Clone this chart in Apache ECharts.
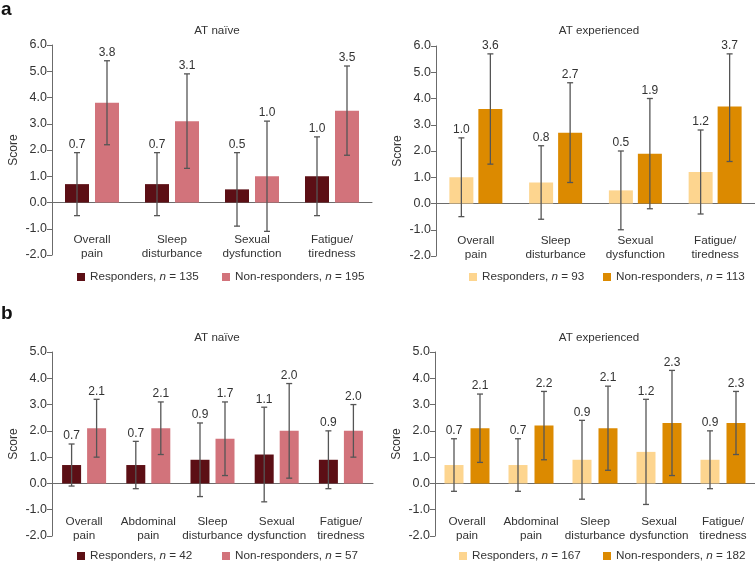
<!DOCTYPE html>
<html>
<head>
<meta charset="utf-8">
<script src="https://cdn.jsdelivr.net/npm/echarts@6/dist/echarts.min.js"></script>
<style>html,body{margin:0;padding:0;background:#fff}#c{width:755px;height:562px}</style>
</head>
<body>
<div id="c"></div>
<script>
// ---- data ----
var catsA = ['Overall\npain', 'Sleep\ndisturbance', 'Sexual\ndysfunction', 'Fatigue/\ntiredness'];
var catsB = ['Overall\npain', 'Abdominal\npain', 'Sleep\ndisturbance', 'Sexual\ndysfunction', 'Fatigue/\ntiredness'];
var yTicksA = [-2, -1, 0, 1, 2, 3, 4, 5, 6];
var yTicksB = [-2, -1, 0, 1, 2, 3, 4, 5];

var aNaiveResp = [0.7, 0.7, 0.5, 1.0];
var aNaiveRespLo = [-0.5, -0.5, -0.9, -0.5];
var aNaiveRespHi = [1.9, 1.9, 1.9, 2.5];
var aNaiveNon = [3.8, 3.1, 1.0, 3.5];
var aNaiveNonLo = [2.2, 1.3, -1.1, 1.8];
var aNaiveNonHi = [5.4, 4.9, 3.1, 5.2];

var aExpResp = [1.0, 0.8, 0.5, 1.2];
var aExpRespLo = [-0.5, -0.6, -1.0, -0.4];
var aExpRespHi = [2.5, 2.2, 2.0, 2.8];
var aExpNon = [3.6, 2.7, 1.9, 3.7];
var aExpNonLo = [1.5, 0.8, -0.2, 1.6];
var aExpNonHi = [5.7, 4.6, 4.0, 5.7];

var bNaiveResp = [0.7, 0.7, 0.9, 1.1, 0.9];
var bNaiveRespLo = [-0.1, -0.2, -0.5, -0.7, -0.2];
var bNaiveRespHi = [1.5, 1.6, 2.3, 2.9, 2.0];
var bNaiveNon = [2.1, 2.1, 1.7, 2.0, 2.0];
var bNaiveNonLo = [1.0, 1.1, 0.3, 0.2, 1.0];
var bNaiveNonHi = [3.2, 3.1, 3.1, 3.8, 3.0];

var bExpResp = [0.7, 0.7, 0.9, 1.2, 0.9];
var bExpRespLo = [-0.3, -0.3, -0.6, -0.8, -0.2];
var bExpRespHi = [1.7, 1.7, 2.4, 3.2, 2.0];
var bExpNon = [2.1, 2.2, 2.1, 2.3, 2.3];
var bExpNonLo = [0.8, 0.9, 0.5, 0.3, 1.1];
var bExpNonHi = [3.4, 3.5, 3.7, 4.3, 3.5];

var titles = ['AT naïve', 'AT experienced', 'AT naïve', 'AT experienced'];
var legendNames = [
  ['Responders, n = 135', 'Non-responders, n = 195'],
  ['Responders, n = 93', 'Non-responders, n = 113'],
  ['Responders, n = 42', 'Non-responders, n = 57'],
  ['Responders, n = 167', 'Non-responders, n = 182']
];

// ---- styles ----
var FONT = 'Liberation Sans, Arial, sans-serif';
var TXT = '#333';
var AX = '#6b6b6b';
var colDark = '#5c0f15', colPink = '#d2737b', colLight = '#fdd58f', colOrange = '#dc8a00';

var panels = [
  {cats: catsA, max: 6, grid: {left: 52, top: 45, width: 320, height: 210}, bw: 24, gap: 6, lm: -22,
   r: [aNaiveResp, aNaiveRespLo, aNaiveRespHi], n: [aNaiveNon, aNaiveNonLo, aNaiveNonHi], c: [colDark, colPink],
   title: {x: 212, y: 20}, leg: [{left: 72, top: 266}, {left: 217, top: 266}]},
  {cats: catsA, max: 6, grid: {left: 436, top: 46, width: 319, height: 210}, bw: 24, gap: 5, lm: -22,
   r: [aExpResp, aExpRespLo, aExpRespHi], n: [aExpNon, aExpNonLo, aExpNonHi], c: [colLight, colOrange],
   title: {x: 594, y: 20}, leg: [{left: 464, top: 266}, {left: 598, top: 266}]},
  {cats: catsB, max: 5, grid: {left: 52, top: 352, width: 321, height: 184}, bw: 19, gap: 6, lm: -21,
   r: [bNaiveResp, bNaiveRespLo, bNaiveRespHi], n: [bNaiveNon, bNaiveNonLo, bNaiveNonHi], c: [colDark, colPink],
   title: {x: 212, y: 327}, leg: [{left: 72, top: 545}, {left: 217, top: 545}]},
  {cats: catsB, max: 5, grid: {left: 435, top: 352, width: 320, height: 184}, bw: 19, gap: 7, lm: -21,
   r: [bExpResp, bExpRespLo, bExpRespHi], n: [bExpNon, bExpNonLo, bExpNonHi], c: [colLight, colOrange],
   title: {x: 594, y: 327}, leg: [{left: 454, top: 545}, {left: 598, top: 545}]}
];

function errRender(offset) {
  return function (params, api) {
    var ci = api.value(0);
    var x = api.coord([ci, 0])[0] + offset;
    var yLo = api.coord([ci, api.value(1)])[1];
    var yHi = api.coord([ci, api.value(2)])[1];
    var ls = {stroke: '#555', lineWidth: 1.3};
    var cw = 3;
    return {
      type: 'group',
      children: [
        {type: 'line', shape: {x1: x, y1: yLo, x2: x, y2: yHi}, style: ls},
        {type: 'line', shape: {x1: x - cw, y1: yHi, x2: x + cw, y2: yHi}, style: ls},
        {type: 'line', shape: {x1: x - cw, y1: yLo, x2: x + cw, y2: yLo}, style: ls},
        {type: 'text', style: {x: x, y: yHi - 2, text: api.value(3).toFixed(1), align: 'center', verticalAlign: 'bottom',
          fill: TXT, fontSize: 12, fontFamily: FONT}}
      ]
    };
  };
}

var option = {
  animation: false,
  backgroundColor: '#fff',
  textStyle: {fontFamily: FONT},
  title: [], legend: [], grid: [], xAxis: [], yAxis: [], series: [],
  graphic: [
    {type: 'text', left: 1, top: 0, style: {text: 'a', fontSize: 19, fontWeight: 'bold', fontFamily: FONT, fill: '#111'}},
    {type: 'text', left: 1, top: 304, style: {text: 'b', fontSize: 19, fontWeight: 'bold', fontFamily: FONT, fill: '#111'}}
  ]
};

panels.forEach(function (p, i) {
  option.grid.push(p.grid);
  option.title.push({text: titles[i], left: p.title.x, top: p.title.y, textAlign: 'center',
    textStyle: {fontSize: 11.6, fontWeight: 'normal', color: TXT, fontFamily: FONT}});
  option.xAxis.push({
    type: 'category', gridIndex: i, data: p.cats,
    axisLine: {onZero: true, lineStyle: {color: AX, width: 1}},
    axisTick: {show: false},
    axisLabel: {margin: p.lm, color: TXT, fontSize: 11.7, lineHeight: 14, fontFamily: FONT, interval: 0}
  });
  option.yAxis.push({
    type: 'value', gridIndex: i, min: -2, max: p.max, interval: 1,
    name: 'Score', nameLocation: 'middle', nameGap: 32, nameRotate: 90,
    nameTextStyle: {color: TXT, fontSize: 12, fontFamily: FONT},
    axisLine: {show: true, lineStyle: {color: AX}},
    axisTick: {show: true, length: 5, lineStyle: {color: AX}},
    splitLine: {show: false},
    axisLabel: {margin: 5, color: TXT, fontSize: 12.5, fontFamily: FONT, formatter: function (v) { return v.toFixed(1); }}
  });
  var gapPct = (p.gap / p.bw * 100).toFixed(1) + '%';
  var off = (p.bw + p.gap) / 2;
  [p.r, p.n].forEach(function (grp, k) {
    option.series.push({
      type: 'bar', name: legendNames[i][k], xAxisIndex: i, yAxisIndex: i,
      data: grp[0], barWidth: p.bw, barGap: gapPct,
      itemStyle: {color: p.c[k]}
    });
  });
  [p.r, p.n].forEach(function (grp, k) {
    option.series.push({
      type: 'custom', xAxisIndex: i, yAxisIndex: i, z: 5,
      renderItem: errRender(k === 0 ? -off : off),
      encode: {x: 0, y: [1, 2]},
      data: grp[0].map(function (v, j) { return [j, grp[1][j], grp[2][j], v]; })
    });
  });
  legendNames[i].forEach(function (nm, k) {
    option.legend.push({
      data: [nm], left: p.leg[k].left, top: p.leg[k].top, icon: 'rect', itemWidth: 8, itemHeight: 8, itemGap: 0,
      selectedMode: false,
      formatter: function (name) { return name.replace(' n =', ' {i|n} ='); },
      textStyle: {color: TXT, fontSize: 11.7, fontFamily: FONT,
        rich: {i: {fontStyle: 'italic', fontSize: 11.7, color: TXT, fontFamily: FONT}}}
    });
  });
});

var chart = echarts.init(document.getElementById('c'), null, {renderer: 'canvas'});
chart.setOption(option);
</script>
</body>
</html>
